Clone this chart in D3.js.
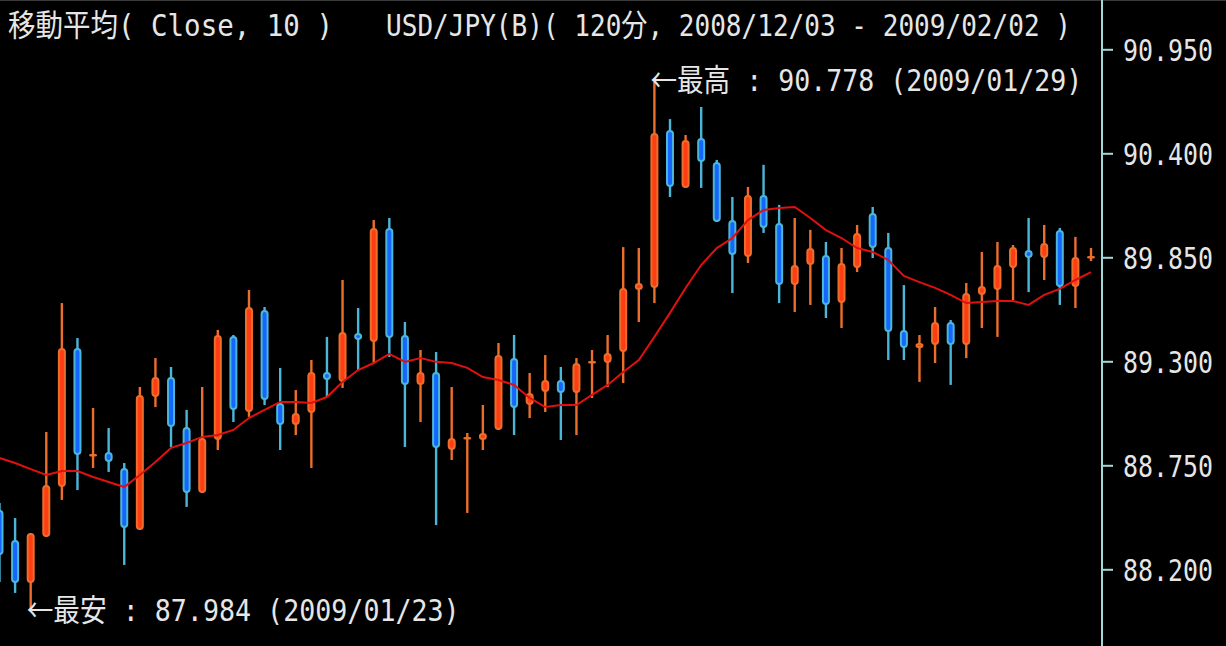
<!DOCTYPE html>
<html>
<head>
<meta charset="UTF-8" />
<title>USD/JPY 120分</title>
<script src="https://d3js.org/d3.v7.min.js"></script>
<style>
  html, body { margin: 0; padding: 0; background: #000; }
  svg { display: block; }
  text { font-family: "DejaVu Sans Mono", "Noto Sans CJK JP", monospace; fill: #e6e6e6; }
</style>
</head>
<body>
<script type="text/javascript">

// 120-minute bars, left to right
var opens = [88.514, 88.355, 88.128, 88.371, 88.635, 89.370, 88.799, 88.820, 88.736, 88.408,
  89.111, 89.217, 88.953, 88.604, 88.884, 89.434, 89.032, 89.571, 89.080, 88.963,
  89.027, 89.243, 89.190, 89.450, 89.402, 90.005, 89.439, 89.175, 89.243, 88.831,
  88.889, 88.884, 88.937, 89.317, 89.069, 89.138, 89.201, 89.132, 89.291, 89.291,
  89.349, 89.677, 89.688, 90.523, 90.217, 90.481, 90.354, 90.047, 89.852, 90.179,
  90.032, 89.703, 89.809, 89.862, 89.608, 89.793, 90.084, 89.904, 89.466, 89.370,
  89.386, 89.508, 89.386, 89.651, 89.677, 89.793, 89.889, 89.846, 89.994, 89.693,
  89.846]

var highs = [88.551, 88.471, 88.392, 88.926, 89.608, 89.423, 89.053, 88.947, 88.762, 89.164,
  89.317, 89.270, 89.043, 89.164, 89.466, 89.439, 89.677, 89.587, 89.265, 89.148,
  89.307, 89.429, 89.730, 89.582, 90.047, 90.058, 89.508, 89.360, 89.349, 89.164,
  88.921, 89.069, 89.397, 89.439, 89.238, 89.333, 89.270, 89.317, 89.360, 89.439,
  89.904, 89.899, 90.778, 90.581, 90.497, 90.645, 90.365, 90.169, 90.222, 90.339,
  90.127, 90.058, 89.995, 89.931, 89.899, 90.021, 90.116, 89.979, 89.703, 89.439,
  89.587, 89.518, 89.714, 89.878, 89.931, 89.915, 90.058, 90.021, 90.005, 89.958,
  89.899]

var lows = [88.133, 88.075, 87.984, 88.371, 88.567, 88.619, 88.736, 88.715, 88.223, 88.408,
  89.058, 88.847, 88.530, 88.604, 88.831, 88.979, 89.006, 89.069, 88.831, 88.910,
  88.736, 89.111, 89.159, 89.254, 89.291, 89.323, 88.847, 88.979, 88.434, 88.778,
  88.498, 88.831, 88.937, 88.910, 89.000, 89.032, 88.884, 88.910, 89.106, 89.164,
  89.185, 89.508, 89.608, 90.169, 90.217, 90.217, 90.037, 89.661, 89.820, 89.979,
  89.608, 89.561, 89.598, 89.529, 89.476, 89.772, 89.846, 89.307, 89.307, 89.191,
  89.291, 89.175, 89.317, 89.476, 89.429, 89.624, 89.666, 89.730, 89.598, 89.582,
  89.830]

var closes = [88.276, 88.128, 88.392, 88.646, 89.370, 88.805, 88.810, 88.768, 88.418, 89.122,
  89.217, 88.953, 88.604, 88.894, 89.439, 89.043, 89.587, 89.095, 88.963, 89.027,
  89.243, 89.201, 89.455, 89.413, 90.005, 89.423, 89.175, 89.243, 88.842, 88.894,
  88.900, 88.921, 89.333, 89.053, 89.132, 89.201, 89.132, 89.291, 89.302, 89.344,
  89.688, 89.714, 90.507, 90.222, 90.470, 90.354, 90.037, 89.862, 90.180, 90.005,
  89.703, 89.809, 89.899, 89.598, 89.820, 89.979, 89.899, 89.455, 89.370, 89.397,
  89.508, 89.386, 89.661, 89.698, 89.809, 89.904, 89.846, 89.926, 89.693, 89.852,
  89.857]

// 移動平均( Close, 10 ) as shown on the chart
var ma10 = [88.789, 88.762, 88.730, 88.699, 88.720, 88.720, 88.688, 88.662, 88.635, 88.699,
  88.768, 88.842, 88.868, 88.900, 88.910, 88.937, 89.000, 89.043, 89.085, 89.085,
  89.080, 89.111, 89.191, 89.254, 89.291, 89.339, 89.297, 89.317, 89.297, 89.291,
  89.265, 89.217, 89.201, 89.175, 89.106, 89.058, 89.069, 89.069, 89.122, 89.175,
  89.243, 89.307, 89.429, 89.556, 89.688, 89.809, 89.899, 89.952, 90.047, 90.100,
  90.111, 90.116, 90.058, 89.994, 89.952, 89.899, 89.878, 89.836, 89.751, 89.719,
  89.688, 89.651, 89.608, 89.614, 89.619, 89.619, 89.598, 89.651, 89.683, 89.730,
  89.772]

var yTicks = [90.950, 90.400, 89.850, 89.300, 88.750, 88.200]

var titleLeft = "移動平均( Close, 10 )"
var titleRight = "USD/JPY(B)( 120分, 2008/12/03 - 2009/02/02 )"
var highLabel = "最高 : 90.778 (2009/01/29)"
var lowLabel = "最安 : 87.984 (2009/01/23)"

var width = 1226
var height = 646
var axisX = 1102

var upBody = "#ff3c12", upLine = "#ec6e2c"
var dnBody = "#1466ff", dnLine = "#4cb6d8"

var svg = d3.select("body").append("svg")
    .attr("width", width)
    .attr("height", height)

svg.append("rect").attr("width", width).attr("height", height).attr("fill", "#000")
svg.append("line").attr("x1", 0).attr("x2", width).attr("y1", 0.5).attr("y2", 0.5)
    .attr("stroke", "#3a3a3a")

var x = d3.scaleLinear().domain([0, opens.length - 1]).range([-0.5, 1091])
var y = d3.scaleLinear().domain([88.2, 90.95]).range([569.3, 49.3])

var bars = d3.range(opens.length).map(function(i) {
    return { i: i, o: opens[i], h: highs[i], l: lows[i], c: closes[i], up: closes[i] >= opens[i] }
})

var plot = svg.append("g")

// wicks
plot.selectAll("line.wick")
    .data(bars)
    .enter().append("line")
    .attr("class", "wick")
    .attr("x1", function(d) { return x(d.i) })
    .attr("x2", function(d) { return x(d.i) })
    .attr("y1", function(d) { return y(d.h) })
    .attr("y2", function(d) { return y(d.l) })
    .attr("stroke", function(d) { return d.up ? upLine : dnLine })
    .attr("stroke-width", 2.4)

// bodies
plot.selectAll("rect.body")
    .data(bars)
    .enter().append("rect")
    .attr("class", "body")
    .attr("x", function(d) { return x(d.i) - 3 })
    .attr("width", 6)
    .attr("y", function(d) { return y(Math.max(d.o, d.c)) + 1 })
    .attr("height", function(d) { return Math.max(Math.abs(y(d.o) - y(d.c)) - 2, 0.6) })
    .attr("rx", function(d) { return Math.min(3, Math.abs(y(d.o) - y(d.c)) / 2) })
    .attr("fill", function(d) { return d.up ? upBody : dnBody })
    .attr("stroke", function(d) { return d.up ? upLine : dnLine })
    .attr("stroke-width", 2)

// moving average
var line = d3.line()
    .x(function(d, i) { return x(i) })
    .y(function(d) { return y(d) })

svg.append("path")
    .datum(ma10)
    .attr("d", line)
    .attr("fill", "none")
    .attr("stroke", "#e01010")
    .attr("stroke-width", 2)

// right price axis
svg.append("line")
    .attr("x1", axisX).attr("x2", axisX)
    .attr("y1", 0).attr("y2", height)
    .attr("stroke", "#a4d8d8").attr("stroke-width", 2)

var axis = svg.append("g")
    .attr("transform", "translate(" + axisX + ",0)")
    .call(d3.axisRight(y).tickValues(yTicks).tickFormat(d3.format(".3f")).tickSize(11).tickPadding(10))

axis.select(".domain").remove()
axis.selectAll(".tick line").attr("stroke", "#a4d8d8").attr("stroke-width", 2)
axis.selectAll(".tick text")
    .attr("fill", "#e6e6e6")
    .style("font-size", "24px")
    .style("font-family", "'DejaVu Sans Mono', monospace")
    .attr("textLength", 90)
    .attr("lengthAdjust", "spacingAndGlyphs")
    .attr("dy", "0.36em")
    .attr("transform", "scale(1,1.28)")

// texts: narrow glyphs stretched upward like the terminal's font
function label(str, px, py, len, arrow) {
    var t = svg.append("text")
        .attr("transform", "translate(" + px + "," + py + ") scale(1,1.22)")
        .attr("textLength", len)
        .attr("lengthAdjust", "spacingAndGlyphs")
        .style("font-size", "25px")
    if (arrow) {
        t.append("tspan").style("font-family", "'Noto Sans CJK JP'").text("←")
    }
    t.append("tspan").text(str)
}

label(titleLeft, 8, 36, 325, false)
label(titleRight, 386, 36, 685, false)

var hiIdx = highs.indexOf(d3.max(highs))
var loIdx = lows.indexOf(d3.min(lows))
label(highLabel, x(hiIdx) - 4, y(highs[hiIdx]) + 9, 432, true)
label(lowLabel, x(loIdx) - 4, y(lows[loIdx]) + 11, 433, true)

</script>
</body>
</html>
